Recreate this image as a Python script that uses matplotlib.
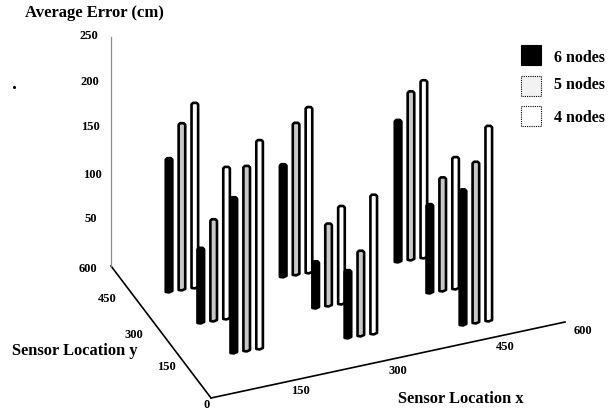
import matplotlib
matplotlib.use("Agg")
import matplotlib.pyplot as plt
from matplotlib.patches import Polygon, Rectangle

plt.rcParams["font.family"] = ["Liberation Serif", "DejaVu Serif"]
plt.rcParams["font.weight"] = "bold"

# Sensor locations (cm), back to front
loc_x = [56, 68, 83, 239, 252, 266, 423, 435, 448]
loc_y = [450, 302, 157, 413, 264, 120, 375, 227, 74]

# Average error per location
err_6 = [146, 82, 170, 123, 51, 74, 155, 97, 148]
err_5 = [182, 111, 202, 166, 90, 93, 184, 124, 176]
err_4 = [202, 166, 228, 181, 107, 152, 194, 144, 213]

series_names = ["6 nodes", "5 nodes", "4 nodes"]
series_err = [err_6, err_5, err_4]
series_fill = ["black", "#c8c8c8", "white"]

axis_ticks = [0, 150, 300, 450, 600]
z_ticks = [50, 100, 150, 200, 250]


# Oblique projection of the plot's 3D box onto image pixels
def project(x, y, z=0):
    px = 211 + x * 354 / 600 - y * 100 / 600
    py = 398 - x * 76 / 600 - y * 132 / 600 - z * 0.916
    return px, py


def draw_bar(ax, x, y, value, fill, order):
    bx, by = project(x, y)
    _, ty = project(x, y, value)
    w = 3.3
    pts = [(bx - w, by), (bx - w, ty + 1.5), (bx - w + 1.5, ty), (bx + w - 1.5, ty),
           (bx + w, ty + 1.5), (bx + w, by - 1), (bx, by + 0.5)]
    ax.add_patch(Polygon(pts, closed=True, facecolor=fill, edgecolor="black",
                         linewidth=1.9, joinstyle="round", zorder=order))


fig = plt.figure(figsize=(6.15, 4.11), dpi=100)
ax = fig.add_axes([0, 0, 1, 1])
ax.set_xlim(0, 615)
ax.set_ylim(411, 0)
ax.axis("off")

# Axes of the box
x0, y0 = project(0, 0)
x1, y1 = project(600, 0)
x2, y2 = project(0, 600)
_, ztop = project(0, 600, 250)
ax.plot([x0, x1], [y0, y1], color="black", lw=1.2, zorder=1)
ax.plot([x0, x2], [y0, y2], color="black", lw=1.2, zorder=1)
ax.plot([x2, x2], [y2, ztop], color="#8c8c8c", lw=0.9, zorder=1)

# Tick labels
for t, lx, ly in zip(axis_ticks, [207, 300, 398, 505, 583], [405, 391, 371, 347, 331]):
    ax.text(lx, ly, str(t), fontsize=9, ha="center", va="center")
for t, lx, ly in zip(axis_ticks[1:], [166, 134, 107, 88], [367, 335, 299, 269]):
    ax.text(lx, ly, str(t), fontsize=9, ha="center", va="center")
for t, lx, ly in zip(z_ticks, [91, 92, 90, 90, 89], [219, 175, 127, 82, 36]):
    ax.text(lx, ly, str(t), fontsize=9, ha="center", va="center")

# Bars
order = 2
for i in range(len(loc_x)):
    for s in range(3):
        draw_bar(ax, loc_x[i] + s * 21, loc_y[i] - s * 3, series_err[s][i], series_fill[s], order)
        order += 1

# Axis titles
ax.text(25, 13, "Average Error (cm)", fontsize=12, ha="left", va="center")
ax.text(12, 351, "Sensor Location y", fontsize=11.8, ha="left", va="center")
ax.text(398, 399, "Sensor Location x", fontsize=11.8, ha="left", va="center")

# Legend drawn by hand like the original
for (name, fill, top, ty) in zip(series_names, ["black", "#f2f2f2", "white"], [45, 76, 106], [58, 85, 118]):
    ax.add_patch(Rectangle((521, top), 20, 20, facecolor=fill,
                           edgecolor="black", linewidth=0.8,
                           linestyle="-" if fill == "black" else (0, (1, 1))))
    ax.text(554, ty, name, fontsize=11.5, ha="left", va="center")

# Speck in the scan
ax.plot([14], [87], marker="o", ms=1.2, color="black")

fig.savefig("out.png", dpi=100)
